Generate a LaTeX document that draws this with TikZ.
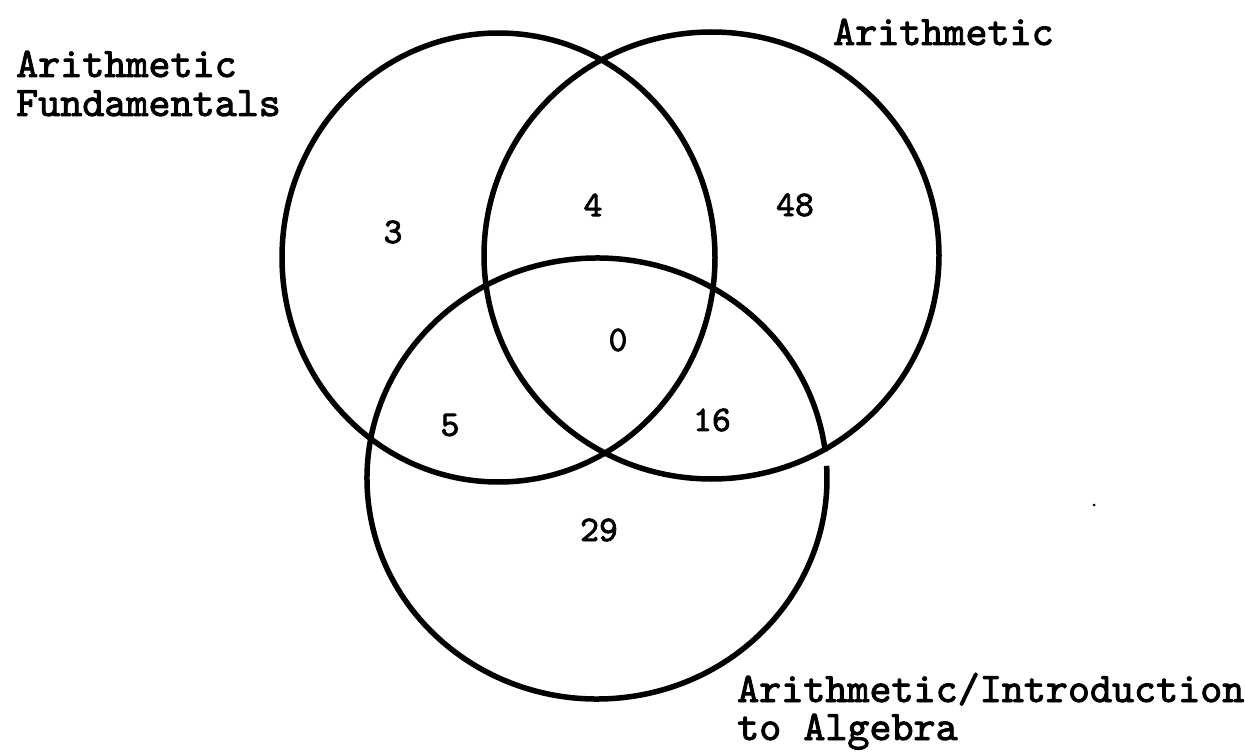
\documentclass[tikz,border=0pt]{standalone}
\usepackage{fontspec}
\newfontfamily\twfont{lmmono10-regular.otf}[FakeBold=2.2]
\begin{document}
\begin{tikzpicture}[x=1pt,y=1pt,
  ring/.style={line width=5.5pt,black},
  lbl/.style={anchor=base west,inner sep=0pt,font=\fontsize{42}{48}\selectfont\twfont},
  num/.style={anchor=center,inner sep=0pt,font=\fontsize{36}{40}\selectfont\twfont}]
\useasboundingbox (0,0) rectangle (1245,-754);
% circle centres
\coordinate (cA) at (498.5,-257.5);   % Arithmetic Fundamentals
\coordinate (cB) at (711.5,-255.5);   % Arithmetic
\coordinate (cC) at (597,-478.5);     % Arithmetic/Introduction to Algebra
\draw[ring] (cA) ellipse [x radius=216.5, y radius=224.5];
\draw[ring] (cB) ellipse [x radius=227.5, y radius=223.5];
\draw[ring] ([shift={(7:230 and 220.5)}]cC) arc [start angle=7, end angle=363.3, x radius=230, y radius=220.5];
% labels
\node[lbl] (lA1) at (16,-77) {Arithmetic};
\node[lbl] (lA2) at (16,-116) {Fundamentals};
\node[lbl] (lB) at (833,-45) {Arithmetic};
\node[lbl] (lC1) at (737,-702) {Arithmetic/Introduction};
\node[lbl] (lC2) at (737,-740) {to Algebra};
% counts
\node[num] (n3) at (393,-232) {3};
\node[num] (n4) at (593,-205) {4};
\node[num] (n48) at (795,-205) {48};
\node[num] (n0) at (618,-340) {0};
\node[num] (n5) at (450,-425) {5};
\node[num] (n16) at (712,-420) {16};
\node[num] (n29) at (599,-530) {29};
% speck
\fill (1094,-505) circle (1.5);
\end{tikzpicture}
\end{document}
